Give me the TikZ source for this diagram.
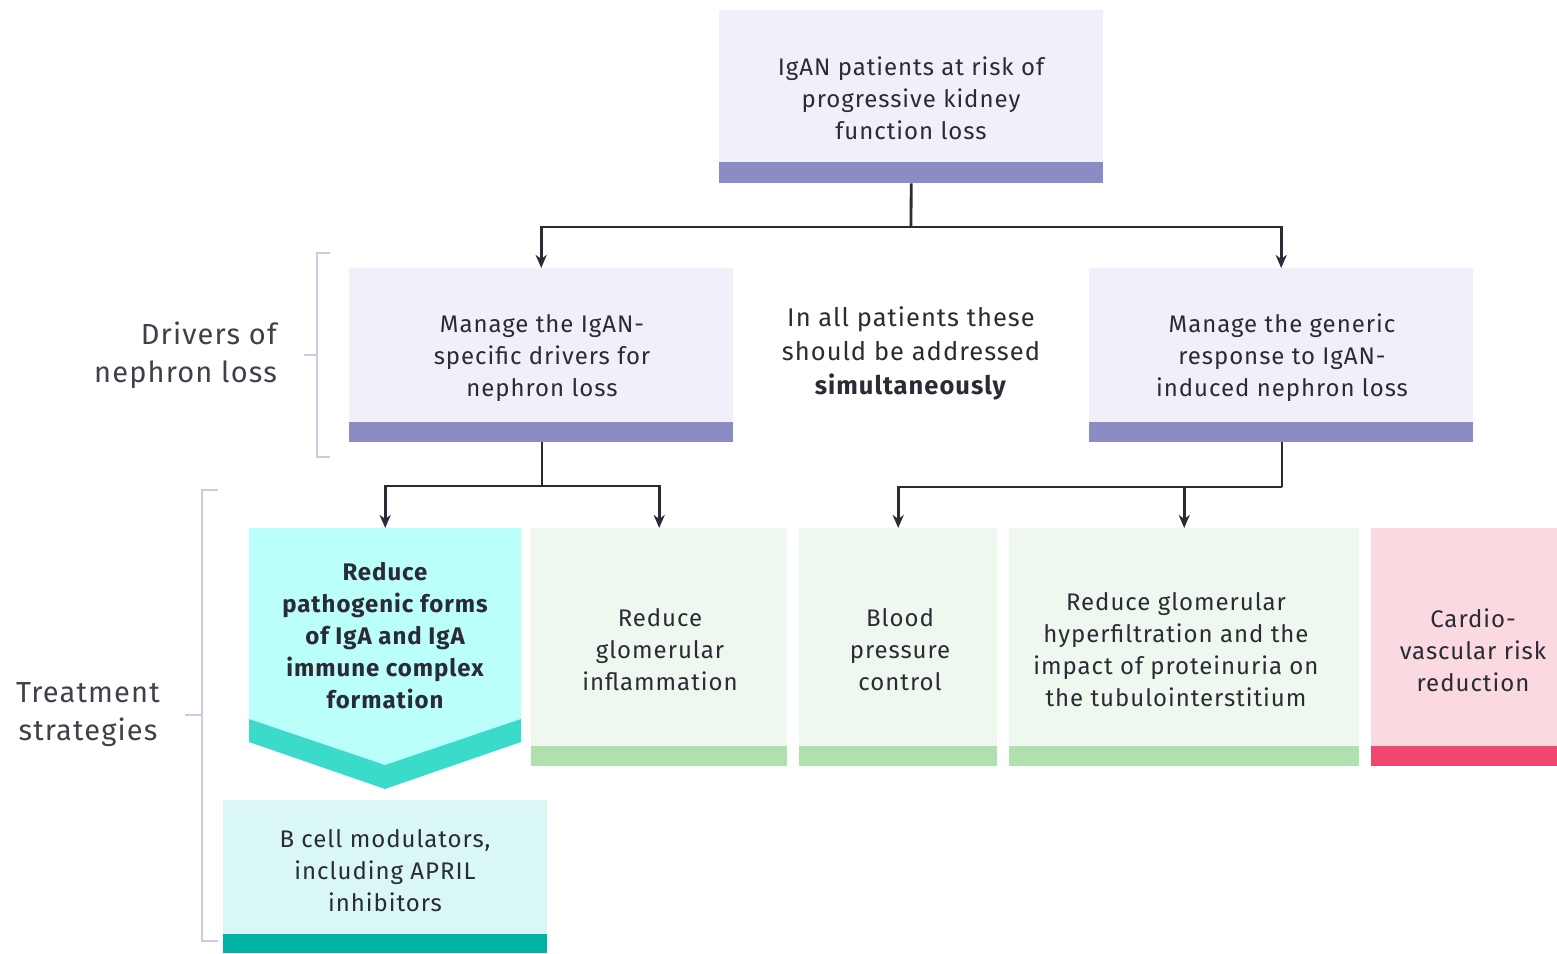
\documentclass[tikz,border=0pt]{standalone}
\usepackage{fontspec}
\setmainfont{Fira Sans}[LetterSpace=4]
\usetikzlibrary{arrows.meta}
\definecolor{txt}{HTML}{2B2B36}
\definecolor{lav}{HTML}{F1F0FA}
\definecolor{lavbar}{HTML}{8C8CC5}
\definecolor{cyl}{HTML}{BAFFFA}
\definecolor{teal}{HTML}{3ADBCB}
\definecolor{bcell}{HTML}{D8F7F5}
\definecolor{bcellbar}{HTML}{00B3A4}
\definecolor{grn}{HTML}{EEF8EF}
\definecolor{grnbar}{HTML}{B1E0AF}
\definecolor{pnk}{HTML}{FAD9E1}
\definecolor{pnkbar}{HTML}{F0476F}
\definecolor{brk}{HTML}{CBCADF}
\begin{document}
\begin{tikzpicture}[x=1pt,y=-1pt,
  panel/.style={rectangle, inner sep=0pt, anchor=north west, draw=none},
  label/.style={inner sep=0pt, align=center, text=txt, font=\fontsize{24}{32}\selectfont},
  side/.style={inner sep=0pt, text=txt!90, font=\fontsize{29}{38}\selectfont},
  wire/.style={draw=txt, line width=2.8pt},
  arr/.style={wire, -{Stealth[length=13pt,width=11pt,inset=4pt]}},
  bracket/.style={draw=brk, line width=2pt}]
\useasboundingbox (0,0) rectangle (1557,953);

% top box
\node[panel, fill=lav, minimum width=384pt, minimum height=173pt] (top) at (719,10) {};
\fill[lavbar] (719,162) rectangle (1103,183);
\node[label] (toptext) at (911,98) {IgAN patients at risk of\\progressive kidney\\function loss};

% middle row
\node[panel, fill=lav, minimum width=384pt, minimum height=174pt] (lmid) at (349,268) {};
\fill[lavbar] (349,422) rectangle (733,442);
\node[label] (lmidtext) at (542,358) {Manage the IgAN-\\specific drivers for\\nephron loss};

\node[panel, fill=lav, minimum width=384pt, minimum height=174pt] (rmid) at (1089,268) {};
\fill[lavbar] (1089,422) rectangle (1473,442);
\node[label] (rmidtext) at (1282,358) {Manage the generic\\response to IgAN-\\induced nephron loss};

\node[label, font=\fontsize{25.5}{34}\selectfont] (simul) at (911,353) {In all patients these\\should be addressed\\\textbf{simultaneously}};

% treatment row
\node[panel, minimum width=272pt, minimum height=190pt] (cyan) at (249,528) {};
\fill[cyl] (249,528) -- (521,528) -- (521,719) -- (385,765) -- (249,719) -- cycle;
\fill[teal] (249,719) -- (385,765) -- (521,719) -- (521,742) -- (385,789) -- (249,742) -- cycle;
\node[label, font=\fontsize{24}{32}\bfseries\selectfont] (cyantext) at (385,636) {Reduce\\pathogenic forms\\of IgA and IgA\\immune complex\\formation};

\node[panel, fill=grn, minimum width=256pt, minimum height=238pt] (infl) at (531,528) {};
\fill[grnbar] (531,746) rectangle (787,766);
\node[label] (infltext) at (660,650) {Reduce\\glomerular\\inflammation};

\node[panel, fill=grn, minimum width=198pt, minimum height=238pt] (bp) at (799,528) {};
\fill[grnbar] (799,746) rectangle (997,766);
\node[label] (bptext) at (900,650) {Blood\\pressure\\control};

\node[panel, fill=grn, minimum width=350pt, minimum height=238pt] (hyper) at (1009,528) {};
\fill[grnbar] (1009,746) rectangle (1359,766);
\node[label] (hypertext) at (1176,650) {Reduce glomerular\\hyperfiltration and the\\impact of proteinuria on\\the tubulointerstitium};

\node[panel, fill=pnk, minimum width=186pt, minimum height=238pt] (cardio) at (1371,528) {};
\fill[pnkbar] (1371,746) rectangle (1557,766);
\node[label] (cardiotext) at (1473,650) {Cardio-\\vascular risk\\reduction};

\node[panel, fill=bcell, minimum width=324pt, minimum height=153pt] (bc) at (223,800) {};
\fill[bcellbar] (223,934) rectangle (547,953);
\node[label] (bctext) at (385,871) {B cell modulators,\\including APRIL\\inhibitors};

% side labels and brackets
\node[side, align=right, anchor=east] (drivers) at (277,355) {Drivers of\\nephron loss};
\draw[bracket] (330,253) -- (317,253) -- (317,457) -- (330,457);
\draw[bracket] (304,355) -- (317,355);

\node[side, align=center] (treat) at (88,715) {Treatment\\strategies};
\draw[bracket] (218,490) -- (202,490) -- (202,941) -- (218,941);
\draw[bracket] (185,715) -- (202,715);

% connectors
\coordinate (j1) at (911,227);
\draw[wire] (top.south) -- (j1);
\draw[arr] (j1) -| (lmid.north);
\draw[arr] (j1) -| (rmid.north);

\coordinate (j2) at (542,486);
\draw[wire] (542,442) -- (j2);
\draw[arr] (j2) -| (cyan.north);
\draw[arr] (j2) -| (infl.north);

\coordinate (j3) at (1282,487);
\draw[wire] (1282,442) -- (j3);
\draw[arr] (j3) -| (bp.north);
\draw[arr] (j3) -| (hyper.north);
\end{tikzpicture}
\end{document}
